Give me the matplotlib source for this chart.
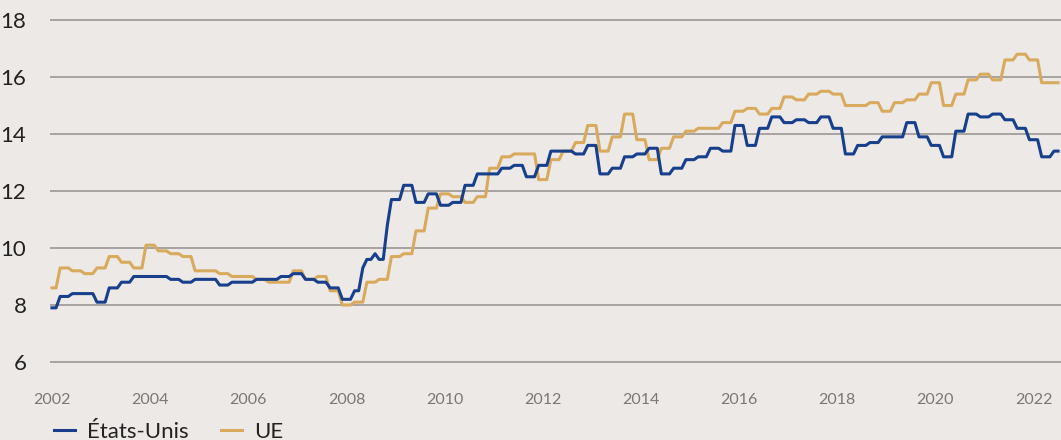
import numpy as np
import matplotlib
matplotlib.use("Agg")
import matplotlib.pyplot as plt
from matplotlib.lines import Line2D

# Monthly series starting Jan 2002, stored as runs: value held for n months
us_values = [7.9, 8.3, 8.4, 8.1, 8.6, 8.8, 9.0, 8.9, 8.8, 8.9, 8.7, 8.8, 8.9, 9.0, 9.1,
             8.9, 8.8, 8.6, 8.2, 8.5, 9.3, 9.6, 9.8, 9.6, 10.8, 11.7, 12.2, 11.6, 11.9,
             11.5, 11.6, 12.2, 12.6, 12.8, 12.9, 12.5, 12.9, 13.4, 13.3, 13.6, 12.6, 12.8,
             13.2, 13.3, 13.5, 12.6, 12.8, 13.1, 13.2, 13.5, 13.4, 14.3, 13.6, 14.2, 14.6,
             14.4, 14.5, 14.4, 14.6, 14.2, 13.3, 13.6, 13.7, 13.9, 14.4, 13.9, 13.6, 13.2,
             14.1, 14.7, 14.6, 14.7, 14.5, 14.2, 13.8, 13.2, 13.4]
us_months = [2, 3, 6, 3, 3, 3, 9, 3, 3, 6, 3, 6, 6, 3, 3,
             3, 3, 3, 3, 2, 1, 2, 1, 2, 1, 3, 3, 3, 3,
             3, 3, 3, 6, 3, 3, 3, 3, 6, 3, 3, 3, 3,
             3, 3, 3, 3, 3, 3, 3, 3, 3, 3, 3, 3, 3,
             3, 3, 3, 3, 3, 3, 3, 3, 6, 3, 3, 3, 3,
             3, 3, 3, 3, 3, 3, 3, 3, 2]

ue_values = [8.6, 9.3, 9.2, 9.1, 9.3, 9.7, 9.5, 9.3, 10.1, 9.9, 9.8, 9.7, 9.2, 9.1, 9.0,
             8.9, 8.8, 9.2, 8.9, 9.0, 8.5, 8.0, 8.1, 8.8, 8.9, 9.7, 9.8, 10.6, 11.4, 11.9,
             11.8, 11.6, 11.8, 12.8, 13.2, 13.3, 12.4, 13.1, 13.4, 13.7, 14.3, 13.4, 13.9,
             14.7, 13.8, 13.1, 13.5, 13.9, 14.1, 14.2, 14.4, 14.8, 14.9, 14.7, 14.9, 15.3,
             15.2, 15.4, 15.5, 15.4, 15.0, 15.1, 14.8, 15.1, 15.2, 15.4, 15.8, 15.0, 15.4,
             15.9, 16.1, 15.9, 16.6, 16.8, 16.6, 15.8]
ue_months = [2, 3, 3, 3, 3, 3, 3, 3, 3, 3, 3, 3, 6, 3, 6,
             3, 6, 3, 3, 3, 3, 3, 3, 3, 3, 3, 3, 3, 3, 3,
             3, 3, 3, 3, 3, 6, 3, 3, 3, 3, 3, 3, 3,
             3, 3, 3, 3, 3, 3, 6, 3, 3, 3, 3, 3, 3,
             3, 3, 3, 3, 6, 3, 3, 3, 3, 3, 3, 3, 3,
             3, 3, 3, 3, 3, 3, 5]

year_ticks = list(range(2002, 2023, 2))
y_ticks = [6, 8, 10, 12, 14, 16, 18]

us = np.repeat(us_values, us_months)
ue = np.repeat(ue_values, ue_months)
t_us = 2002 + np.arange(len(us)) / 12
t_ue = 2002 + np.arange(len(ue)) / 12

BG = "#EDE9E6"
BLUE = "#173F8B"
GOLD = "#D8AA5E"

plt.rcParams["font.family"] = ["Lato", "DejaVu Sans"]

fig = plt.figure(figsize=(10.61, 4.40), dpi=100, facecolor=BG)
ax = fig.add_axes([50 / 1061, 0.1125, 1 - 50 / 1061, 0.8744])
ax.set_facecolor(BG)

ax.plot(t_ue, ue, color=GOLD, lw=2.2, zorder=3)
ax.plot(t_us, us, color=BLUE, lw=2.2, zorder=4)

ax.set_xlim(2001.96, 2022.56)
ax.set_ylim(5, 18.5)
ax.set_yticks(y_ticks)
ax.set_xticks(year_ticks)
ax.set_xticklabels([str(y) for y in year_ticks])
ax.yaxis.grid(True, color="#9A9794", lw=1.2)
ax.set_axisbelow(True)
for s in ax.spines.values():
    s.set_visible(False)
ax.tick_params(axis="y", length=0, pad=17, labelsize=16, labelcolor="#222222")
ax.tick_params(axis="x", length=0, pad=2, labelsize=11.5, labelcolor="#7A7775")
for lab in ax.get_yticklabels():
    lab.set_horizontalalignment("right")

# legend sits at the very bottom, partly cut like in the source
handles = [Line2D([], [], color=BLUE, lw=2.2), Line2D([], [], color=GOLD, lw=2.2)]
fig.legend(handles, ["États-Unis", "UE"], loc="lower left", bbox_to_anchor=(0.032, -0.05),
           ncol=2, frameon=False, fontsize=16, handlelength=0.95, handletextpad=0.55,
           columnspacing=1.45, labelcolor="#222222")

fig.savefig("out.png", dpi=100, facecolor=BG)
